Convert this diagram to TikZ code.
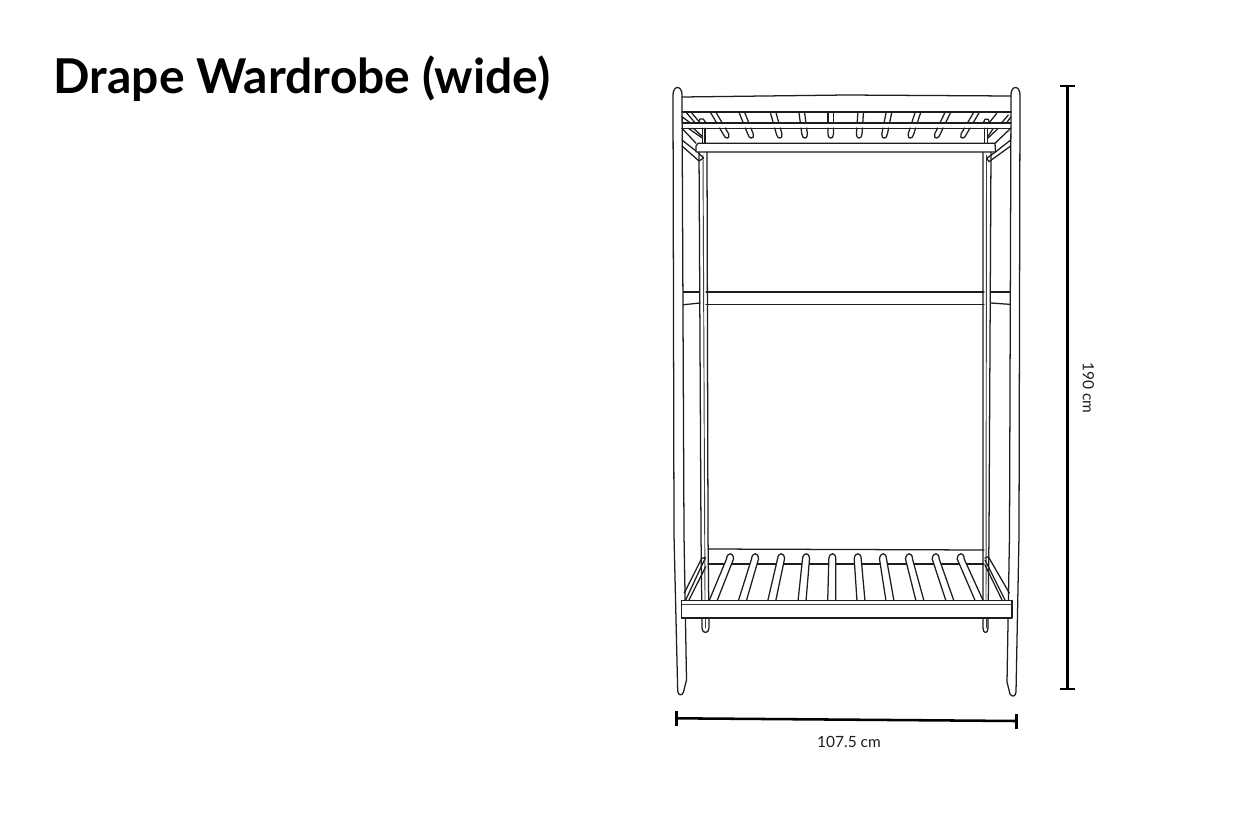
\documentclass[tikz,border=0pt]{standalone}
\usepackage{fontspec}
\setmainfont{Lato}
\newfontfamily\smallfont{Lato}
\definecolor{ink}{HTML}{1E1E1E}
\tikzset{
  wl/.style={draw=ink,line width=0.95pt,line join=round,line cap=round},
  wlf/.style={wl,fill=white},
  thin line/.style={draw=ink!85,line width=0.7pt,line cap=round},
  dim/.style={draw=black,line width=1.9pt},
  dimlabel/.style={font=\smallfont\fontsize{11.6}{13}\selectfont,text=ink,inner sep=0pt},
  titletext/.style={font=\fontsize{36}{40}\selectfont\bfseries,text=black,inner sep=0pt,anchor=base west}
}
\begin{document}
\begin{tikzpicture}[x=0.75pt,y=-0.75pt]
\useasboundingbox (0,0) rectangle (1248,832);
\fill[white] (0,0) rectangle (1248,832);

\node[titletext] (title) at (53.5,93) {Drape Wardrobe (wide)};

% back rail of the bottom shelf
\draw[wl] (708,549) -- (984,550);
\draw[wl] (708,564) -- (984,564);

% middle rod and its side pieces
\draw[wl] (706,292) -- (984,292);
\draw[wl] (706,304.5) -- (984,304.5);
\draw[wl] (680.5,292) -- (699,292);
\draw[wl] (681,305) -- (700,303);
\draw[wl] (991,292) -- (1012,292);
\draw[wl] (991,303) -- (1012,304.5);

% inner posts
\draw[wl] (699,150) -- (701,535) -- (702,628) .. controls (702,634) and (709,634) .. (709,628) -- (708,535) -- (707,150);
\draw[thin line] (703,155) -- (705,600);
\draw[thin line] (705.5,618) -- (705.5,628);
\draw[wl] (983,150) -- (983,628) .. controls (983,634) and (988,634) .. (988,628) -- (989,535) -- (991,150);
\draw[thin line] (986.5,155) -- (986,600);
\draw[thin line] (986,618) -- (986,628);

% outer posts
\draw[wlf] (673,95) .. controls (673,85) and (682,85) .. (682,95) -- (684,535) -- (686.5,680) -- (683.5,692) .. controls (682.5,696) and (678,696) .. (677.7,691) -- (674,535) -- cycle;
\draw[wlf] (1011,95) .. controls (1011,85) and (1020,85) .. (1020,95) -- (1019,535) -- (1016,692) .. controls (1015.5,697) and (1011.5,697) .. (1010,694) -- (1007,682) -- (1009.5,535) -- cycle;

% bottom shelf slats
\foreach \xb/\xt in {713/730,742.3/755,771.7/781,802/806,831.7/832.3,861/857.7,890/883,920/909,950/935.7,979.3/960.7}{
  \draw[wlf] (\xb-4,601) -- (\xt-3.5,559) .. controls (\xt-3,552) and (\xt+3.5,552) .. (\xt+3.5,559) -- (\xb+4,601);
}
% bottom shelf side braces
\draw[wl] (684.3,593) -- (701.7,558.3) -- (705.5,557.5) -- (685.7,600);
\draw[wl] (689,600) -- (705.7,566.7);
\draw[wl] (985,560) -- (1005,600);
\draw[wl] (985,565) -- (1002,600);
\draw[wl] (985,558) -- (988.3,556.7) -- (1009.3,593);
% bottom shelf front rail
\draw[wlf] (681.5,600.5) -- (1012,600.5) -- (1012,618) -- (681.5,618) -- cycle;
\draw[thin line] (682,604) -- (1012,604);

% top rails
\draw[wl] (682,97) -- (846,95) -- (1011,96);
\draw[wl] (682,112) -- (1011,112);
% top slats
\foreach \xt/\xb in {713/727.7,741.7/751.7,773/780,801.7/805,830.7/830.7,860.7/859,889/884,918/910,948/936,976.7/962}{
  \pgfmathsetmacro\xa{\xt+(\xb-\xt)*0.44}
  \pgfmathsetmacro\xc{\xt+(\xb-\xt)*0.64}
  \pgfmathsetmacro\xd{\xt+(\xb-\xt)*0.88}
  \draw[wl] (\xt-2.8,112) -- (\xa-2.8,123);
  \draw[wl] (\xt+2.8,112) -- (\xa+2.8,123);
  \draw[wl] (\xc-2.8,128) -- (\xd-2.8,134) .. controls (\xb-2.8,139.5) and (\xb+2.8,139.5) .. (\xd+2.8,134) -- (\xc+2.8,128);
}
\draw[wl] (682,123) -- (1011,123);
\draw[wl] (682,128.3) -- (1011,128.3);

% top left corner
\draw[wl] (682,116.7) -- (690,122.7);
\draw[wl] (686.7,113) -- (695,122.7);
\draw[wl] (691.7,113) -- (700,122.7);
\draw[wl] (698.3,122.7) -- (700,119) -- (703.3,119) -- (705.7,122.7);
\draw[wl] (682,128.3) -- (696,143.3);
\draw[wl] (688.3,128.3) -- (702.7,138.3);
\draw[wl] (693.3,128.3) -- (702.7,136.7);
\draw[wl] (702.7,128.3) -- (702.7,143.3);
\draw[wl] (705,128.3) -- (705,143.3);
\draw[wl] (682,140) -- (696,151);
\draw[wl] (698,152.5) -- (703.5,158);
\draw[wl] (682,146) -- (699,161) -- (703.5,158);

% top right corner
\draw[wl] (990,121.7) -- (996.7,113.3);
\draw[wl] (1001.7,122.7) -- (1008.3,115);
\draw[wl] (1006.7,122.7) -- (1011,116.7);
\draw[wl] (983.3,122.7) -- (985,119.3) -- (988.3,119.3) -- (989.3,122.7);
\draw[wl] (1010.7,128.3) -- (995,143.3);
\draw[wl] (998.3,128.3) -- (987.7,138.3);
\draw[wl] (993.3,128.3) -- (987.7,136.7);
\draw[wl] (984.3,128.3) -- (984.3,143.3);
\draw[wl] (987.7,128.3) -- (987.7,143.3);
\draw[wl] (1010.7,140) -- (995,152.3);
\draw[wl] (1010.7,146) -- (989,161.7) -- (986.7,158.3) -- (995,152.3);

% upper shelf
\draw[wlf] (698,143.3) -- (995,143.3) -- (995.5,152) -- (696,152) -- (696,146) -- cycle;

% dimensions
\coordinate (wa) at (676.7,718.3);
\coordinate (wb) at (1016.7,721);
\coordinate (wat) at (676.7,710.7);
\coordinate (wab) at (676.7,726);
\coordinate (wbt) at (1016.7,714);
\coordinate (wbb) at (1016.7,729);
\draw[dim] (wa) -- (wb);
\draw[dim] (wat) -- (wab);
\draw[dim] (wbt) -- (wbb);
\coordinate (ha) at (1067.5,86);
\coordinate (hb) at (1067.5,689);
\coordinate (hal) at (1060,86);
\coordinate (har) at (1075,86);
\coordinate (hbl) at (1060,689);
\coordinate (hbr) at (1075,689);
\draw[dim] (ha) -- (hb);
\draw[dim] (hal) -- (har);
\draw[dim] (hbl) -- (hbr);
\node[dimlabel] (wlabel) at (849,742) {107.5 cm};
\node[dimlabel,rotate=-90] (hlabel) at (1088.5,388) {190 cm};
\end{tikzpicture}
\end{document}
